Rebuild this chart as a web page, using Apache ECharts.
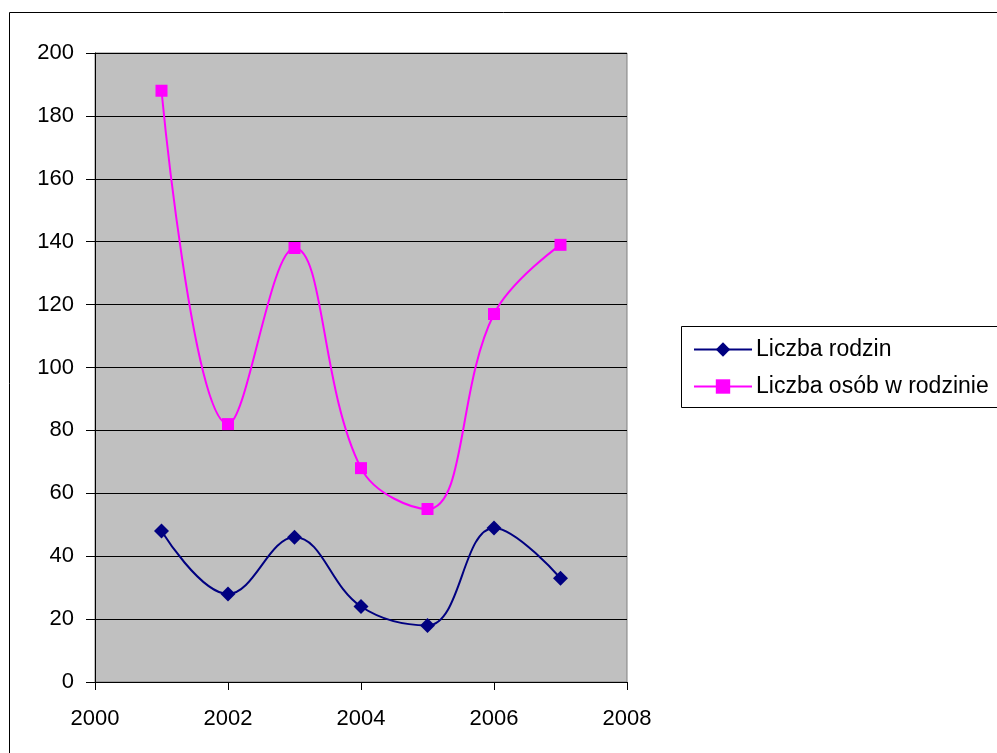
<!DOCTYPE html>
<html>
<head>
<meta charset="utf-8">
<script src="https://cdn.jsdelivr.net/npm/echarts@6/dist/echarts.min.js"></script>
<style>
  html, body { margin: 0; padding: 0; background: #fff; }
  #chart { width: 997px; height: 753px; }
</style>
</head>
<body>
<div id="chart"></div>
<script>
// years on the x axis
let years = [2001, 2002, 2003, 2004, 2005, 2006, 2007]
let rodziny = [48, 28, 46, 24, 18, 49, 33]
let osoby = [188, 82, 138, 68, 55, 117, 139]
let seriesNames = ['Liczba rodzin', 'Liczba osób w rodzinie']

let pair = (arr) => years.map((y, i) => [y, arr[i]])
let font = 'Liberation Sans, Arial, sans-serif'

let chart = echarts.init(document.getElementById('chart'))
chart.setOption({
  animation: false,
  backgroundColor: '#fff',
  grid: {
    left: 95,
    top: 53,
    right: 370,
    bottom: 71,
    show: true,
    backgroundColor: '#C0C0C0',
    borderColor: '#808080',
    borderWidth: 1
  },
  xAxis: {
    type: 'value',
    min: 2000,
    max: 2008,
    interval: 2,
    axisLine: { show: true, onZero: false, lineStyle: { color: '#000' } },
    axisTick: { show: true, length: 8, lineStyle: { color: '#000' } },
    splitLine: { show: false },
    axisLabel: { color: '#000', fontSize: 22, fontFamily: font, margin: 26, formatter: (v) => String(v) }
  },
  yAxis: {
    type: 'value',
    min: 0,
    max: 200,
    interval: 20,
    axisLine: { show: true, lineStyle: { color: '#000' } },
    axisTick: { show: true, length: 9, lineStyle: { color: '#000' } },
    splitLine: { show: true, lineStyle: { color: '#000', width: 1 } },
    axisLabel: { color: '#000', fontSize: 22, fontFamily: font, margin: 21 }
  },
  legend: {
    orient: 'vertical',
    left: 688,
    top: 333,
    itemWidth: 58,
    itemHeight: 18,
    itemGap: 14,
    textStyle: { color: '#000', fontSize: 23, fontFamily: font, padding: [0, 0, 0, -1] },
    data: seriesNames
  },
  graphic: [
    {
      type: 'rect',
      shape: { x: 9.5, y: 12.5, width: 1000, height: 760 },
      style: { fill: 'none', stroke: '#000', lineWidth: 1 },
      silent: true,
      z: -1
    },
    {
      type: 'rect',
      shape: { x: 681.5, y: 326.5, width: 330, height: 81 },
      style: { fill: '#fff', stroke: '#000', lineWidth: 1 },
      silent: true,
      z: 0
    }
  ],
  series: [
    {
      name: seriesNames[0],
      type: 'line',
      data: pair(rodziny),
      smooth: 0.4,
      symbol: 'diamond',
      symbolSize: 15,
      color: '#000080',
      lineStyle: { width: 2, color: '#000080' }
    },
    {
      name: seriesNames[1],
      type: 'line',
      data: pair(osoby),
      smooth: 0.4,
      symbol: 'rect',
      symbolSize: 12,
      color: '#FF00FF',
      lineStyle: { width: 2, color: '#FF00FF' }
    }
  ]
})
</script>
</body>
</html>
